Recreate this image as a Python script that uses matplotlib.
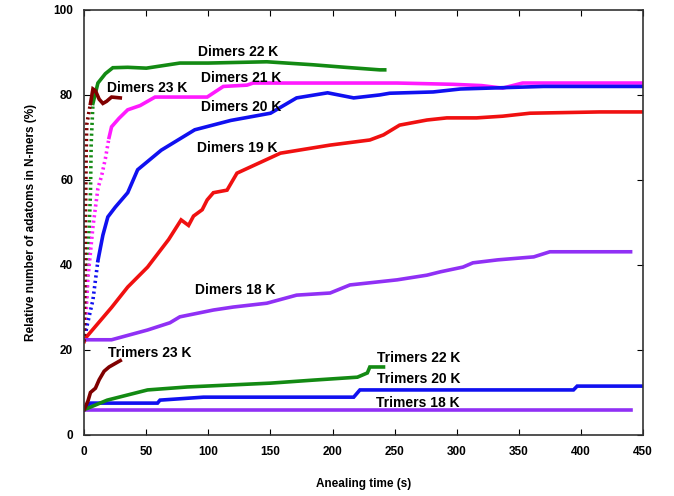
import numpy as np
import matplotlib
matplotlib.use("Agg")
import matplotlib.pyplot as plt

plt.rcParams['font.family'] = ['Liberation Sans', 'DejaVu Sans']
plt.rcParams['font.weight'] = 'bold'

# Dimers
d22_t = [0, 1, 2, 3, 5, 5.6, 7, 11, 17, 23, 35, 50, 77, 100, 147, 184, 210, 238, 242]
d22_y = [22, 28, 34, 41, 57, 68.7, 78, 82.8, 85, 86.4, 86.5, 86.3, 87.5, 87.5, 87.8, 87.1, 86.5, 85.9, 85.9]

d23_t = [0, 0.5, 1, 1.5, 2, 5, 7, 9, 12, 15, 18, 22, 29]
d23_y = [22, 35, 50, 65, 73, 78, 81.4, 81, 79, 78, 78.5, 79.5, 79.3]

d21_t = [0, 1, 3, 7, 11, 14, 17, 20, 22, 28, 35, 45, 57, 99, 112, 131, 136,
         252, 297, 320, 337, 353, 450]
d21_y = [22, 26, 37, 49, 58, 61, 65, 70, 72.5, 74.5, 76.5, 77.5, 79.5, 79.5,
         82, 82.3, 82.8, 82.8, 82.5, 82.2, 81.6, 82.8, 82.8]

d20_t = [0, 2, 7, 11, 15, 19, 25, 35, 43, 62, 89, 118, 150, 171, 196, 217, 238, 246, 281,
         303, 370, 450]
d20_y = [22, 25.4, 31.8, 41, 47, 51.3, 53.6, 57, 62.4, 67, 71.8, 74, 75.7, 79.3, 80.5, 79.3, 80,
         80.4, 80.7, 81.4, 82, 82]

d19_t = [0, 1, 22, 35, 51, 68, 78, 84, 88, 95, 99, 104, 115, 123, 158, 198, 230, 241,
         254, 276, 292, 316, 337, 359, 415, 450]
d19_y = [22, 22.8, 30, 34.8, 39.5, 46, 50.6, 49.3, 51.5, 53, 55.3, 57, 57.6, 61.6, 66.3, 68.2,
         69.4, 70.6, 72.9, 74.1, 74.6, 74.6, 75, 75.7, 76, 76]

d18_t = [0, 22, 51, 69, 77, 104, 120, 147, 171, 198, 214, 252, 276, 287, 305, 313,
         333, 362, 375, 440]
d18_y = [22.4, 22.4, 24.7, 26.4, 27.8, 29.4, 30.1, 31, 32.9, 33.4, 35.3, 36.5, 37.6,
         38.4, 39.5, 40.5, 41.2, 41.9, 43.1, 43.1]

# Trimers
t23_t = [0, 3, 5, 9, 12, 16, 20, 29]
t23_y = [6, 8, 10, 11, 13, 15, 16, 17.5]

t22_t = [0, 2, 18.5, 51, 83, 150, 184, 220, 228, 230, 241]
t22_y = [6, 6.2, 8.2, 10.6, 11.3, 12.2, 12.9, 13.6, 14.6, 16, 16]

t20_t = [0, 5, 59, 61, 96, 217, 222, 333, 394, 397, 450]
t20_y = [6, 7.5, 7.5, 8.2, 8.9, 8.9, 10.6, 10.6, 10.6, 11.5, 11.5]

t18_t = [0, 440]
t18_y = [5.9, 5.9]

# (t, y, colour, number of leading points drawn dotted)
series = [
    (d22_t, d22_y, '#138a13', 6),
    (d21_t, d21_y, '#ff1aff', 7),
    (d20_t, d20_y, '#1010f0', 3),
    (d19_t, d19_y, '#f01010', 0),
    (d18_t, d18_y, '#9030f5', 0),
    (d23_t, d23_y, '#800000', 5),
    (t18_t, t18_y, '#9030f5', 0),
    (t20_t, t20_y, '#1010f0', 0),
    (t22_t, t22_y, '#138a13', 0),
    (t23_t, t23_y, '#800000', 0),
]

labels = [
    ("Dimers 22 K", 124, 90.1),
    ("Dimers 21 K", 126, 84.0),
    ("Dimers 23 K", 51, 81.6),
    ("Dimers 20 K", 126, 77.2),
    ("Dimers 19 K", 123, 67.5),
    ("Dimers 18 K", 122, 34.1),
    ("Trimers 23 K", 53, 19.3),
    ("Trimers 22 K", 269, 18.1),
    ("Trimers 20 K", 269, 13.2),
    ("Trimers 18 K", 269, 7.5),
]

fig = plt.figure(figsize=(6.74, 4.96), dpi=100)
ax = fig.add_axes([0.125, 0.123, 0.829, 0.857])

for t, y, c, k in series:
    if k:
        ax.plot(t[:k + 1], y[:k + 1], color=c, lw=2.6, ls=(0, (0.6, 0.9)))
    ax.plot(t[k:], y[k:], color=c, lw=2.6, solid_joinstyle='miter')

for txt, x, y in labels:
    ax.text(x, y, txt, ha='center', va='center', fontsize=10, fontweight='bold')

ax.set_xlim(0, 450)
ax.set_ylim(0, 100)
ax.set_xticks(np.arange(0, 451, 50))
ax.set_yticks(np.arange(0, 101, 20))
ax.tick_params(direction='in', top=True, right=True, length=4, labelsize=8.5, pad=8)
for lab in ax.get_xticklabels() + ax.get_yticklabels():
    lab.set_fontweight('bold')
for s in ax.spines.values():
    s.set_linewidth(1.2)
    s.set_color('#333333')

ax.set_xlabel("Anealing time (s)", fontsize=8.5, fontweight='bold', labelpad=14)
ax.set_ylabel("Relative number of adatoms in N-mers (%)", fontsize=8.5, fontweight='bold', labelpad=12)

fig.savefig("out.png", dpi=100)
